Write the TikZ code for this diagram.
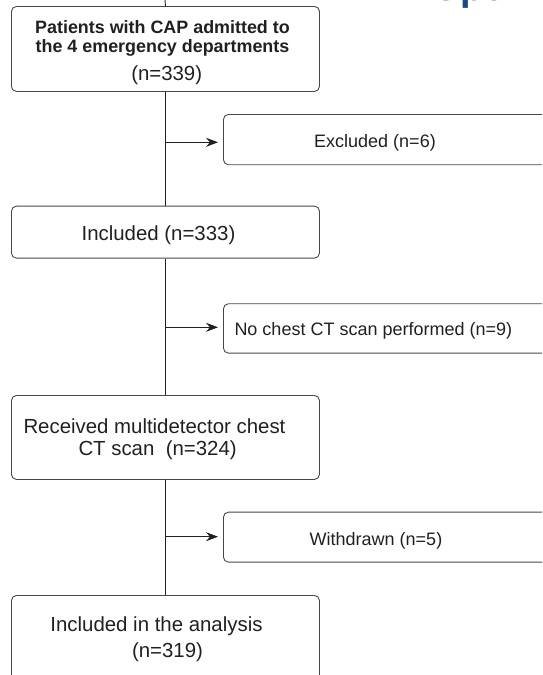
\documentclass[tikz,border=0pt]{standalone}
\usepackage{fontspec}
\setmainfont{Liberation Sans}
\usetikzlibrary{arrows.meta}
\definecolor{ink}{HTML}{231F20}
\definecolor{frame}{HTML}{474747}
\definecolor{journal}{HTML}{1D4A86}
\begin{document}
\begin{tikzpicture}[x=1pt,y=-1pt,
  box/.style={draw=frame, line width=0.9pt, rounded corners=5pt, inner sep=0pt, anchor=north west},
  link/.style={draw=ink, line width=0.9pt},
  arr/.style={link, -{Stealth[length=12pt,width=9pt,inset=4pt]}, shorten >=5pt},
  big/.style={font=\fontsize{20.4}{24}\selectfont, text=ink, inner sep=0pt, anchor=base},
  head/.style={font=\bfseries\fontsize{17.9}{21}\selectfont, text=ink, inner sep=0pt, anchor=base},
  small/.style={font=\fontsize{18}{21}\selectfont, text=ink, inner sep=0pt, anchor=base}]
\useasboundingbox (0,0) rectangle (542,675);
\clip (0,0) rectangle (542,675);

% journal header, almost entirely above the visible area
\node[anchor=south west, inner sep=0pt, text=journal,
      font=\bfseries\fontsize{38}{40}\selectfont] (hdr) at (431,9) {Open};

% main column
\node[box, minimum width=308pt, minimum height=85pt] (b1) at (11,6) {};
\node[box, minimum width=308pt, minimum height=52pt] (b2) at (11,205.7) {};
\node[box, minimum width=308pt, minimum height=84pt] (b3) at (11,395) {};
\node[box, minimum width=308pt, minimum height=100pt] (b4) at (11,595) {};

% side boxes
\node[box, minimum width=340pt, minimum height=50.3pt] (e1) at (223,114) {};
\node[box, minimum width=340pt, minimum height=49.4pt] (e2) at (223,303.3) {};
\node[box, minimum width=340pt, minimum height=50pt] (e3) at (223,511.7) {};

% box texts
\node[head] (t1a) at (162.5,33) {Patients with CAP admitted to};
\node[head] (t1b) at (162.5,52.5) {the 4 emergency departments};
\node[big] (t1c) at (166.7,80) {(n=339)};
\node[big] (t2) at (158.5,240) {Included (n=333)};
\node[big, anchor=base west] (t3a) at (23.3,433) {Received multidetector chest};
\node[big, anchor=base west] (t3b) at (78.3,455) {CT scan\ \ (n=324)};
\node[big] (t4a) at (156.5,631) {Included in the analysis};
\node[big] (t4b) at (167.5,657) {(n=319)};
\node[small] (s1) at (375,147) {Excluded (n=6)};
\node[small, anchor=base west] (s2) at (234.3,335) {No chest CT scan performed (n=9)};
\node[small] (s3) at (376,545) {Withdrawn (n=5)};

% trunk
\coordinate (top) at (165,0);
\coordinate (j1) at (165,142.3);
\coordinate (j2) at (165,327.3);
\coordinate (j3) at (165,536.7);
\draw[link] (top) -- (b1.north);
\draw[link] (b1.south) -- (b2.north);
\draw[link] (b2.south) -- (b3.north);
\draw[link] (b3.south) -- (b4.north);

% branches
\draw[arr] (j1) -- (j1 -| e1.west);
\draw[arr] (j2) -- (j2 -| e2.west);
\draw[arr] (j3) -- (j3 -| e3.west);
\end{tikzpicture}
\end{document}
